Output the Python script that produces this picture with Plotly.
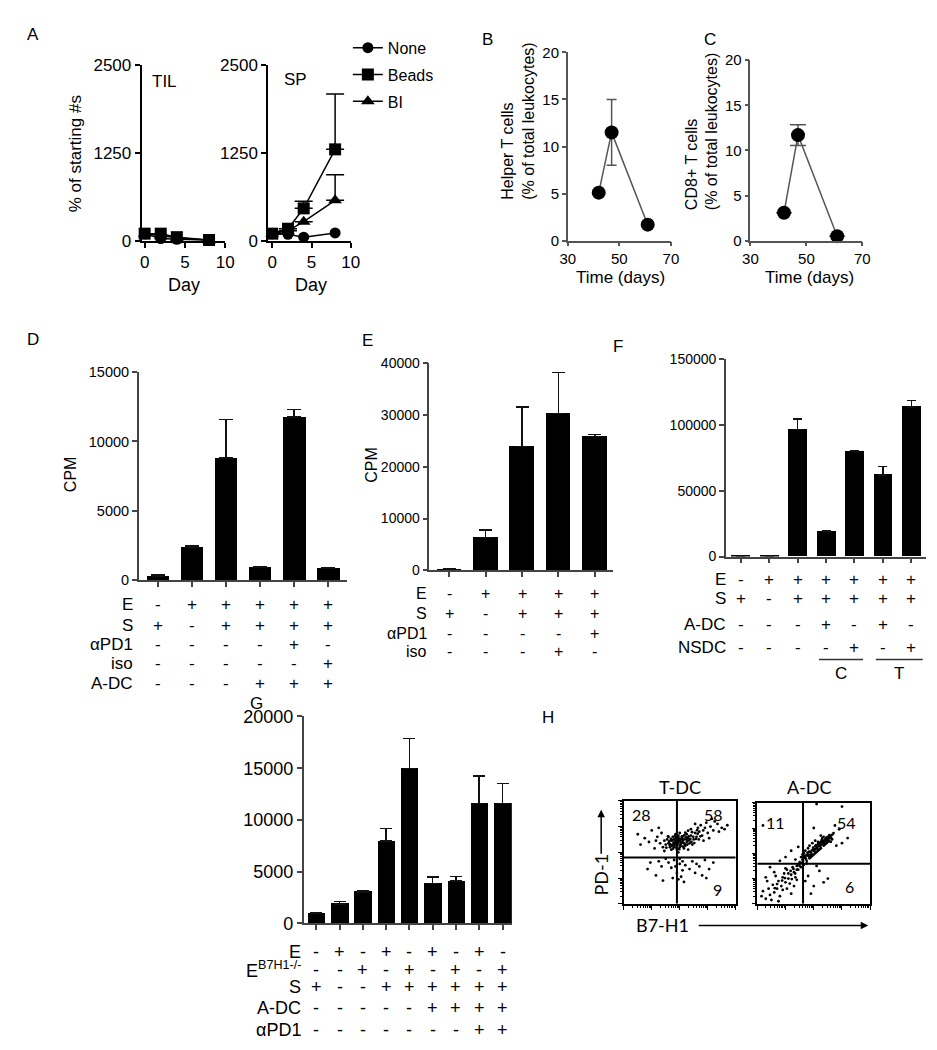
import numpy as np
import plotly.graph_objects as go

W, H = 937, 1050
SANS = "Arial, 'Liberation Sans', sans-serif"
HUM = "Lato, 'Open Sans', sans-serif"

# ---------------- data ----------------
# Panel A
a_days = [0, 2, 4, 8]
til_none = [100, 30, 20, 5]
til_beads = [100, 100, 50, 10]
til_bi = [100, 70, 40, 5]
sp_none = [100, 90, 50, 110]
sp_beads = [100, 170, 460, 1300]
sp_beads_err = [0, 0, 100, 790]
sp_bi = [100, 140, 270, 575]
sp_bi_err = [0, 0, 0, 365]
a_xticks = [0, 5, 10]
a_yticks = [0, 1250, 2500]

# Panels B, C
bc_days = [42, 47, 61]
helper_vals = [5.1, 11.5, 1.7]
helper_err = [0, 3.5, 0]
cd8_vals = [3.1, 11.7, 0.5]
cd8_err = [0, 1.15, 0]
bc_xticks = [30, 50, 70]
bc_yticks = [0, 5, 10, 15, 20]

# Panel D
d_vals = [300, 2400, 8800, 900, 11750, 850]
d_err = [80, 100, 2800, 40, 550, 30]
d_rows = ["E", "S", "αPD1", "iso", "A-DC"]
d_signs = ["-+++++", "+-++++", "----+-", "-----+", "---+++"]

# Panel E
e_vals = [150, 6300, 23900, 30300, 25900]
e_err = [80, 1450, 7700, 7900, 300]
e_rows = ["E", "S", "αPD1", "iso"]
e_signs = ["-++++", "+-+++", "----+", "---+-"]

# Panel F
f_vals = [300, 500, 96500, 19400, 80300, 62200, 113900]
f_err = [0, 0, 8000, 500, 500, 6200, 5000]
f_rows = ["E", "S", "A-DC", "NSDC"]
f_signs = ["-++++++", "+-+++++", "---+-+-", "----+-+"]
f_groups = ["C", "T"]

# Panel G
g_vals = [1000, 1890, 3050, 7970, 14960, 3840, 4090, 11590, 11590]
g_err = [50, 250, 60, 1200, 2930, 660, 450, 2640, 1950]
g_rows = ["E", "E<sup>B7H1-/-</sup>", "S", "A-DC", "αPD1"]
g_signs = ["-+-+-+-+-", "--+-+-+-+", "+--++++++", "-----++++", "-------++"]

# Panel H (flow cytometry, log10 decades: B7-H1 vs PD-1)
tdc_points = [
    (1.95, 2.40), (1.85, 2.45), (2.05, 2.35), (1.75, 2.30), (2.15, 2.50), (1.90, 2.55), (2.00, 2.20),
    (1.70, 2.45), (2.25, 2.40), (1.80, 2.20), (2.10, 2.60), (1.60, 2.35), (2.30, 2.55), (1.95, 2.65),
    (1.65, 2.20), (2.20, 2.25), (1.85, 2.35), (2.05, 2.50), (1.55, 2.50), (2.35, 2.35), (1.75, 2.60),
    (2.15, 2.15), (1.90, 2.10), (2.40, 2.65), (1.50, 2.30), (2.00, 2.75), (1.70, 2.10), (2.25, 2.70),
    (1.80, 2.50), (2.10, 2.40), (1.45, 2.45), (2.50, 2.50), (1.60, 2.60), (2.55, 2.75), (1.95, 2.00),
    (2.45, 2.30), (1.40, 2.20), (2.60, 2.60), (1.85, 2.70), (2.30, 2.10),
    (1.88, 2.42), (2.02, 2.30), (1.78, 2.38), (2.12, 2.48), (1.92, 2.28), (2.08, 2.62), (1.68, 2.52),
    (2.22, 2.58), (1.82, 2.62), (2.18, 2.32), (1.98, 2.52), (1.72, 2.25), (2.28, 2.45), (1.62, 2.42),
    (2.38, 2.52), (2.02, 2.42), (1.88, 2.18), (2.12, 2.22), (1.95, 2.58), (2.32, 2.62),
    (1.52, 2.18), (1.58, 2.62), (1.66, 2.32), (1.74, 2.48), (1.82, 2.28), (1.86, 2.56), (1.93, 2.36),
    (1.97, 2.46), (2.04, 2.26), (2.07, 2.56), (2.14, 2.36), (2.16, 2.66), (2.24, 2.50), (2.27, 2.30),
    (2.34, 2.46), (2.42, 2.40), (2.48, 2.60), (2.52, 2.36), (2.58, 2.52), (2.64, 2.72), (2.68, 2.50),
    (2.74, 2.62), (2.44, 2.78), (2.20, 2.76), (1.76, 2.14), (1.64, 2.28), (1.98, 2.12), (2.30, 2.84),
    (2.84, 2.85), (2.62, 2.86),
    (2.70, 2.80), (2.80, 2.65), (2.90, 2.95), (3.00, 2.75), (3.10, 3.00), (2.75, 3.05), (3.20, 2.85),
    (3.35, 3.10), (3.50, 2.95), (2.95, 3.15), (3.25, 3.20), (2.65, 2.95), (3.05, 2.55), (3.40, 2.80),
    (2.85, 2.45), (3.60, 2.90), (3.15, 3.30), (2.55, 3.10), (3.70, 3.05), (2.40, 2.90),
    (0.50, 2.70), (0.75, 2.55), (1.00, 2.85), (1.20, 2.60), (1.30, 2.35), (0.90, 2.40), (1.10, 2.15),
    (1.35, 2.75), (0.60, 2.30), (1.25, 2.95), (1.45, 2.05), (1.15, 2.45),
    (1.80, 1.70), (2.00, 1.55), (1.70, 1.40), (2.10, 1.30), (1.90, 1.20), (2.05, 1.05), (1.60, 1.60),
    (2.20, 1.50), (1.95, 0.95), (1.75, 1.00), (2.15, 0.85), (1.50, 1.75), (2.00, 1.75), (1.85, 1.45),
    (2.10, 1.65),
    (2.45, 1.65), (2.70, 1.45), (2.90, 1.70), (2.55, 1.20), (3.05, 1.35), (2.80, 1.10), (2.60, 1.55),
    (3.20, 1.60), (2.35, 1.35), (2.95, 1.00),
    (0.85, 1.35), (1.15, 1.10), (0.95, 1.60), (1.35, 1.45), (1.40, 0.90), (1.25, 1.65),
]
adc_points = [
    (0.30, 0.20), (0.45, 0.35), (0.40, 0.60), (0.60, 0.45), (0.55, 0.75), (0.70, 0.60), (0.75, 0.90),
    (0.85, 0.70), (0.90, 1.05), (1.00, 0.85), (0.95, 1.20), (1.10, 1.00), (1.05, 1.35), (1.20, 1.15),
    (1.15, 0.80), (1.25, 1.45), (1.30, 1.25), (1.35, 1.05), (1.40, 1.50), (1.45, 1.35), (1.50, 1.65),
    (1.55, 1.45), (1.60, 1.75), (1.65, 1.55), (1.70, 1.85), (1.75, 1.70), (1.80, 1.95), (1.85, 1.80),
    (1.90, 2.05), (1.95, 1.90), (2.00, 2.15), (2.05, 2.00), (2.10, 2.25), (2.15, 2.10), (2.20, 2.35),
    (2.25, 2.20), (2.30, 2.45), (2.35, 2.30), (2.40, 2.55), (2.45, 2.40), (2.50, 2.65), (2.55, 2.50),
    (2.60, 2.70), (2.65, 2.55), (2.70, 2.80),
    (1.60, 1.95), (1.70, 2.10), (1.80, 2.20), (1.75, 1.60), (1.90, 1.85), (2.00, 1.95), (2.10, 2.05),
    (1.65, 2.00), (1.85, 2.30), (2.20, 2.15), (2.30, 2.60), (2.40, 2.35), (2.50, 2.45), (1.95, 2.40),
    (2.05, 2.50), (1.55, 1.85), (2.35, 2.65), (2.60, 2.45), (2.15, 2.45), (2.25, 2.70),
    (1.62, 1.70), (1.72, 1.78), (1.82, 1.88), (1.92, 1.98), (2.02, 2.08), (2.12, 2.18), (2.22, 2.28),
    (2.32, 2.38), (2.42, 2.48), (2.52, 2.58), (1.68, 1.90), (1.78, 2.02), (1.98, 2.22), (2.08, 2.32),
    (2.18, 2.40), (2.28, 2.52), (2.45, 2.62), (2.55, 2.72), (1.50, 1.50), (1.40, 1.35),
    (1.58, 1.62), (1.66, 1.82), (1.74, 1.92), (1.84, 2.06), (1.88, 1.94), (1.94, 2.12), (2.04, 2.16),
    (2.06, 2.28), (2.14, 2.26), (2.16, 2.36), (2.24, 2.44), (2.26, 2.34), (2.34, 2.50), (2.36, 2.42),
    (2.44, 2.56), (2.48, 2.50), (2.56, 2.62), (2.58, 2.66), (2.62, 2.60), (2.66, 2.74), (1.10, 1.20),
    (1.18, 1.30), (1.28, 1.38), (0.98, 1.02), (0.88, 0.92), (1.34, 1.20), (0.70, 0.78), (1.46, 1.56),
    (1.22, 0.98), (0.62, 0.62),
    (0.20, 0.50), (0.35, 0.90), (0.50, 0.15), (0.65, 1.10), (0.80, 0.30), (0.90, 0.55), (1.05, 0.60),
    (1.20, 0.40), (0.60, 1.25), (0.30, 1.05), (1.30, 0.70), (0.75, 0.10), (1.00, 1.40), (1.40, 0.95),
    (0.15, 0.30), (0.45, 1.45),
    (1.80, 1.10), (2.00, 0.70), (2.20, 1.30), (2.50, 1.00), (1.90, 0.40), (2.35, 0.85), (2.10, 1.50),
    (1.70, 0.90),
    (1.00, 1.85), (1.20, 2.10), (1.35, 1.75), (0.80, 1.70), (1.45, 2.25), (0.20, 3.10),
    (2.80, 2.30), (3.00, 2.40), (2.90, 2.95), (3.20, 2.60), (2.75, 3.10), (2.00, 3.00), (3.00, 3.85),
    (2.10, 3.95),
]
tdc_gate = (1.9, 1.8)
adc_gate = (1.62, 1.59)
tdc_pct = [("28", 0.63, 3.45), ("58", 3.22, 3.45), ("9", 3.36, 0.55)]
adc_pct = [("11", 0.66, 3.23), ("54", 3.15, 3.23), ("6", 3.25, 0.67)]

# ---------------- layout helpers ----------------
def px(x):
    return x / W


def py(y):
    return 1 - y / H


def aid(k):
    return "" if k == 1 else str(k)


# pixel boxes: x0, x1, ytop, ybottom
boxes = {
    1: (128, 213, 48, 227),
    2: (257, 341, 48, 227),
    3: (562, 667, 35, 227),
    4: (748, 862, 43, 227),
    5: (125, 337, 361, 573),
    6: (421, 608, 352, 563),
    7: (723, 927, 348, 549),
    8: (293, 505, 712, 923),
    9: (619, 733, 798, 903),
    10: (755, 870, 800, 903),
}


def doms(k):
    x0, x1, yt, yb = boxes[k]
    return [px(x0), px(x1)], [py(yb), py(yt)]


fig = go.Figure()
layout_axes = {}


def std_axes(k, xr, yr, color, lw, tlen, tw, fsize, xticks=None, yticks=None, ydtick=None,
             xlabels=True):
    xd, yd = doms(k)
    base = dict(showgrid=False, zeroline=False, showline=True, linecolor=color, linewidth=lw,
                ticks="outside", ticklen=tlen, tickwidth=tw, tickcolor=color,
                tickfont=dict(family=SANS, size=fsize, color="black"), fixedrange=True,
                tickformat="d")
    xa = dict(base, domain=xd, range=xr, anchor="y" + aid(k), showticklabels=xlabels)
    if xticks is not None:
        xa.update(tickmode="array", tickvals=xticks)
    ya = dict(base, domain=yd, range=yr, anchor="x" + aid(k))
    if yticks is not None:
        ya.update(tickmode="array", tickvals=yticks)
    else:
        ya.update(tick0=0, dtick=ydtick)
    layout_axes["xaxis" + aid(k)] = xa
    layout_axes["yaxis" + aid(k)] = ya


def add_series(k, x, y, name, symbol, size, showlegend, err=None, cap=9, color="black",
               lw=1.5, sym=False):
    tr = go.Scatter(x=x, y=y, mode="lines+markers", name=name, xaxis="x" + aid(k),
                    yaxis="y" + aid(k), line=dict(color=color, width=lw),
                    marker=dict(symbol=symbol, size=size, color="black"),
                    showlegend=showlegend, legendgroup=name, cliponaxis=False)
    if err is not None:
        if sym:
            tr.error_y = dict(type="data", array=err, color=color, thickness=1.5, width=cap)
        else:
            tr.error_y = dict(type="data", array=err, arrayminus=[0] * len(err),
                              symmetric=False, color="black", thickness=1.5, width=cap)
    fig.add_trace(tr)


def add_bars(k, vals, err, width, cap):
    n = len(vals)
    fig.add_trace(go.Bar(x=list(range(n)), y=vals, width=width,
                         marker=dict(color="black", line=dict(width=0)),
                         error_y=dict(type="data", array=err, arrayminus=[0] * n,
                                      symmetric=False, color="#111", thickness=1.5, width=cap),
                         xaxis="x" + aid(k), yaxis="y" + aid(k), showlegend=False))


annotations = []
shapes = []


def text(x, y, s, size, family=SANS, xanchor="center", yanchor="middle", angle=0, align="center",
         xref="paper", yref="paper"):
    annotations.append(dict(x=x, y=y, xref=xref, yref=yref, text=s, showarrow=False,
                            font=dict(family=family, size=size, color="black"),
                            xanchor=xanchor, yanchor=yanchor, textangle=angle, align=align,
                            borderpad=0))


def table(k, rows, signs, row_ys, label_right, size):
    for label, sg, ry in zip(rows, signs, row_ys):
        text(px(label_right), py(ry), label, size, xanchor="right")
        for i, ch in enumerate(sg):
            text(i, py(ry), ch, size, xref="x" + aid(k))


def arrow(x_head, y_head, dx, dy):
    # line + arrow head drawn as an annotation arrow (pixel offsets)
    annotations.append(dict(x=px(x_head), y=py(y_head), xref="paper", yref="paper", ax=dx, ay=dy,
                            text=" ", font=dict(size=1), showarrow=True, arrowhead=2,
                            arrowsize=1, arrowwidth=1.5, arrowcolor="black"))


# ---------------- Panel A ----------------
std_axes(1, [-0.37, 10], [0, 2500], "black", 2, 5, 2, 17, xticks=a_xticks, yticks=a_yticks)
std_axes(2, [-0.5, 10], [0, 2500], "black", 2, 5, 2, 17, xticks=a_xticks, yticks=a_yticks)
add_series(1, a_days, til_none, "None", "circle", 11, False)
add_series(1, a_days, til_bi, "BI", "triangle-up", 12, False)
add_series(1, a_days, til_beads, "Beads", "square", 12, False)
add_series(2, a_days, sp_none, "None", "circle", 11, True)
add_series(2, a_days, sp_beads, "Beads", "square", 12, True, err=sp_beads_err)
add_series(2, a_days, sp_bi, "BI", "triangle-up", 12, True, err=sp_bi_err)
text(px(17), py(17), "A", 17)
text(px(151), py(65), "TIL", 17)
text(px(285), py(63), "SP", 17)
text(px(60), py(138), "% of starting #s", 17, angle=-90)
text(px(171), py(272), "Day", 18)
text(px(300), py(272), "Day", 18)

# ---------------- Panels B, C ----------------
GR = "#555555"
std_axes(3, [30, 70], [0, 20], GR, 1.5, 4, 1.5, 15, xticks=bc_xticks, yticks=bc_yticks)
std_axes(4, [30, 70], [0, 20], GR, 1.5, 4, 1.5, 15, xticks=bc_xticks, yticks=bc_yticks)
add_series(3, bc_days, helper_vals, "Helper", "circle", 14, False, err=helper_err, cap=5,
           color=GR, sym=True)
add_series(4, bc_days, cd8_vals, "CD8", "circle", 14, False, err=cd8_err, cap=8,
           color=GR, sym=True)
text(px(480), py(22), "B", 17)
text(px(707), py(22), "C", 17)
text(px(511), py(105), "Helper T cells<br>(% of total leukocytes)", 16, angle=-90, align="left")
text(px(698), py(116), "CD8+ T cells<br>(% of total leukocytes)", 16, angle=-90, align="left")
text(px(616), py(265), "Time (days)", 17)
text(px(808), py(265), "Time (days)", 17)

# ---------------- Panel D ----------------
BC = "#444444"
std_axes(5, [-0.55, 5.55], [0, 15000], BC, 1.5, 5, 1.5, 14.5,
         xticks=list(range(len(d_vals))), ydtick=5000, xlabels=False)
add_bars(5, d_vals, d_err, 0.66, 7)
text(px(17), py(328), "D", 17)
text(px(55), py(465), "CPM", 16, angle=-90)
table(5, d_rows, d_signs, [598, 619, 639, 658, 678], 120, 17)

# ---------------- Panel E ----------------
std_axes(6, [-0.55, 4.5], [0, 40000], BC, 1.5, 5, 1.5, 14,
         xticks=list(range(len(e_vals))), ydtick=10000, xlabels=False)
add_bars(6, e_vals, e_err, 0.68, 6.5)
text(px(358), py(329), "E", 17)
text(px(362), py(455), "CPM", 16, angle=-90)
table(6, e_rows, e_signs, [587, 607, 627, 646], 420, 16)

# ---------------- Panel F ----------------
std_axes(7, [-0.52, 6.52], [0, 150000], BC, 1.5, 5, 1.5, 14,
         xticks=list(range(len(f_vals))), ydtick=50000, xlabels=False)
add_bars(7, f_vals, f_err, 0.66, 4.5)
text(px(613), py(335), "F", 17)
table(7, f_rows, f_signs, [572, 592, 618, 642], 724, 17)
for g, (a, b) in zip(f_groups, [(2.75, 4.3), (4.75, 6.4)]):
    shapes.append(dict(type="line", xref="x7", yref="paper", x0=a, x1=b, y0=py(654), y1=py(654),
                       line=dict(color="#333", width=1.5)))
    text((a + b) / 2, py(668), g, 17, xref="x7")

# ---------------- Panel G ----------------
std_axes(8, [-0.54, 8.4], [0, 20000], BC, 1.5, 5, 1.5, 18,
         xticks=list(range(len(g_vals))), ydtick=5000, xlabels=False)
add_bars(8, g_vals, g_err, 0.75, 6)
text(px(245), py(699), "G", 17)
table(8, g_rows, g_signs, [952, 970, 988, 1009, 1032], 291, 18)

# ---------------- Panel H ----------------
minor_vals = [m * 10 ** e for e in range(4) for m in range(2, 10)]


def flow_axes(k):
    xd, yd = doms(k)
    base = dict(type="log", range=[0, 4], showgrid=False, zeroline=False, showline=True,
                mirror=True, linecolor="black", linewidth=1.5, ticks="outside", ticklen=4,
                tickwidth=1, tickcolor="black", tickmode="array",
                tickvals=[1, 10, 100, 1000, 10000], showticklabels=False, fixedrange=True,
                minor=dict(ticks="outside", ticklen=2.5, tickwidth=1, tickcolor="black",
                           tickmode="array", tickvals=minor_vals, showgrid=False))
    layout_axes["xaxis" + aid(k)] = dict(base, domain=xd, anchor="y" + aid(k))
    layout_axes["yaxis" + aid(k)] = dict(base, domain=yd, anchor="x" + aid(k))


for k, pts, gate, pct, title, tx in [(9, tdc_points, tdc_gate, tdc_pct, "T-DC", 676),
                                      (10, adc_points, adc_gate, adc_pct, "A-DC", 808)]:
    flow_axes(k)
    xs = np.power(10.0, [p[0] for p in pts])
    ys = np.power(10.0, [p[1] for p in pts])
    fig.add_trace(go.Scatter(x=xs, y=ys, mode="markers", xaxis="x" + aid(k), yaxis="y" + aid(k),
                             marker=dict(size=2.8, color="black"), showlegend=False))
    gx, gy = 10 ** gate[0], 10 ** gate[1]
    shapes.append(dict(type="line", xref="x" + aid(k), yref="y" + aid(k), x0=gx, x1=gx,
                       y0=1, y1=10000, line=dict(color="black", width=2)))
    shapes.append(dict(type="line", xref="x" + aid(k), yref="y" + aid(k), x0=1, x1=10000,
                       y0=gy, y1=gy, line=dict(color="black", width=2)))
    for s, xv, yv in pct:
        text(xv, yv, s, 16, family=HUM, xref="x" + aid(k), yref="y" + aid(k))
    text(px(tx), py(784), title, 18, family=HUM)

text(px(542), py(713), "H", 17)
text(px(596), py(873), "PD-1", 18, family=HUM, angle=-90)
arrow(596, 807, 0, 46)
text(px(658), py(925), "B7-H1", 18, family=HUM)
arrow(868, 925, -171, 0)

fig.update_layout(
    width=W, height=H, autosize=False, margin=dict(l=0, r=0, t=0, b=0),
    paper_bgcolor="white", plot_bgcolor="white",
    font=dict(family=SANS, color="black"),
    showlegend=True, bargap=0,
    legend=dict(x=px(338), y=py(13), xanchor="left", yanchor="top",
                font=dict(family=SANS, size=16, color="black"), bgcolor="rgba(0,0,0,0)",
                traceorder="grouped", tracegroupgap=3, itemwidth=30),
    annotations=annotations, shapes=shapes,
    **layout_axes,
)

fig.write_html("out.html")
